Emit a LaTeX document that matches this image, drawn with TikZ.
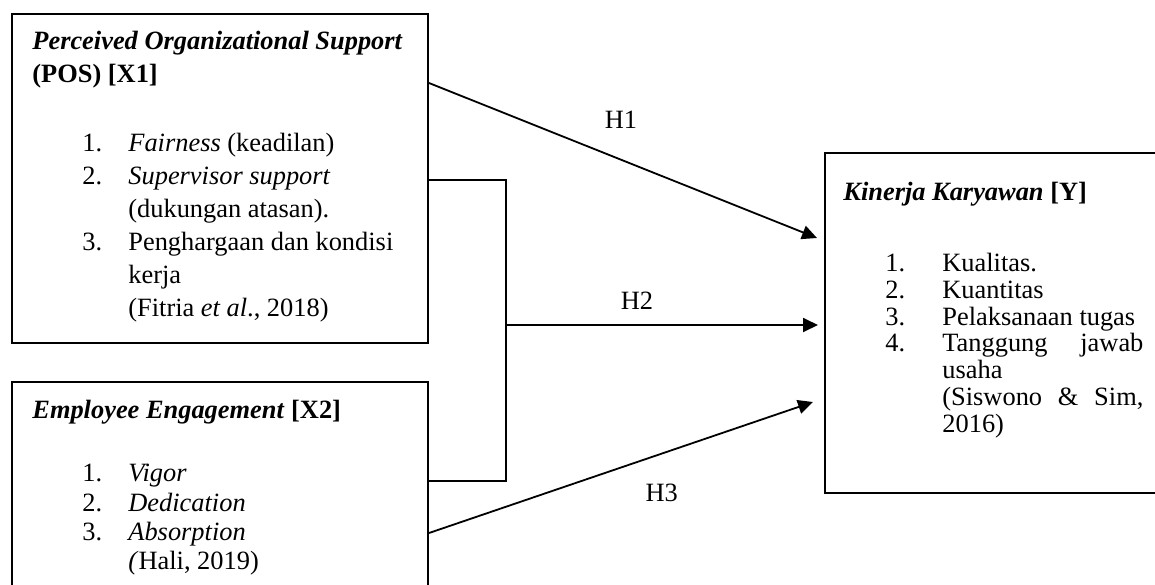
\documentclass[tikz,border=0pt]{standalone}
\usepackage{fontspec}
\setmainfont{Liberation Serif}
\usetikzlibrary{arrows.meta}

\tikzset{
  box/.style={draw, line width=1pt, rectangle, inner sep=0pt, anchor=north west},
  txt/.style={anchor=north west, inner sep=0pt, align=left},
  arr/.style={line width=0.9pt, -{Triangle[length=7.5pt,width=7pt]}},
  hlab/.style={inner sep=0pt, font=\fontsize{13.2pt}{16pt}\selectfont}
}

\begin{document}
\begin{tikzpicture}
  \useasboundingbox (0,0) rectangle (577.5pt,-292pt);

  % boxes
  \node[box, minimum width=208pt, minimum height=164.5pt] (x1) at (5.5pt,-6.5pt) {};
  \node[box, minimum width=208pt, minimum height=115pt] (x2) at (5.5pt,-190.5pt) {};
  \node[box, minimum width=180pt, minimum height=170pt] (y) at (412pt,-76pt) {};

  \node[txt, font=\fontsize{13.2pt}{16.5pt}\selectfont] (x1t) at ([xshift=10.5pt,yshift=-9pt]x1.north west) {%
    \textbf{\textit{Perceived Organizational Support}}\\
    \textbf{(POS) [X1]}\\[18pt]
    \hspace*{25pt}\makebox[23pt][l]{1.}\textit{Fairness} (keadilan)\\
    \hspace*{25pt}\makebox[23pt][l]{2.}\textit{Supervisor support}\\
    \hspace*{48pt}(dukungan atasan).\\
    \hspace*{25pt}\makebox[23pt][l]{3.}Penghargaan dan kondisi\\
    \hspace*{48pt}kerja\\
    \hspace*{48pt}(Fitria \textit{et al}., 2018)};

  \node[txt, font=\fontsize{13.2pt}{14.6pt}\selectfont] (x2t) at ([xshift=10.5pt,yshift=-9.5pt]x2.north west) {%
    \textbf{\textit{Employee Engagement}} \textbf{[X2]}\\[17pt]
    \hspace*{25pt}\makebox[23pt][l]{1.}\textit{Vigor}\\
    \hspace*{25pt}\makebox[23pt][l]{2.}\textit{Dedication}\\
    \hspace*{25pt}\makebox[23pt][l]{3.}\textit{Absorption}\\
    \hspace*{48pt}\textit{(}Hali, 2019)};

  \node[txt, font=\fontsize{13.2pt}{13.4pt}\selectfont] (yt) at ([xshift=9.5pt,yshift=-15pt]y.north west) {%
    \textbf{\textit{Kinerja Karyawan}} \textbf{[Y]}\\[22pt]
    \hspace*{21pt}\makebox[28.5pt][l]{1.}Kualitas.\\
    \hspace*{21pt}\makebox[28.5pt][l]{2.}Kuantitas\\
    \hspace*{21pt}\makebox[28.5pt][l]{3.}Pelaksanaan tugas\\
    \hspace*{21pt}\makebox[28.5pt][l]{4.}\makebox[100.5pt][s]{Tanggung jawab}\\
    \hspace*{49.5pt}usaha\\
    \hspace*{49.5pt}\makebox[100.5pt][s]{(Siswono \& Sim,}\\
    \hspace*{49.5pt}2016)};

  % bracket joining X1 and X2
  \coordinate (b1) at ([yshift=-83.5pt]x1.north east);
  \coordinate (b2) at ([yshift=-50pt]x2.north east);
  \coordinate (bk) at ([xshift=38.5pt]b1);
  \coordinate (h2s) at ([yshift=-72.5pt]bk);
  \draw[line width=0.9pt] (b1) -- (bk) |- (b2);

  % hypotheses
  \draw[arr] ([yshift=-35pt]x1.north east) -- node[hlab, pos=0.495, above=15pt] (h1) {H1} ([xshift=-3.5pt,yshift=-43pt]y.north west);
  \draw[arr] (h2s) -- node[hlab, pos=0.42, above=7.5pt] (h2) {H2} ([xshift=-3pt]y.west |- h2s);
  \draw[arr] ([yshift=-76pt]x2.north east) -- node[hlab, pos=0.606, below=14.7pt] (h3) {H3} ([xshift=-5.5pt,yshift=-125pt]y.north west);
\end{tikzpicture}
\end{document}
